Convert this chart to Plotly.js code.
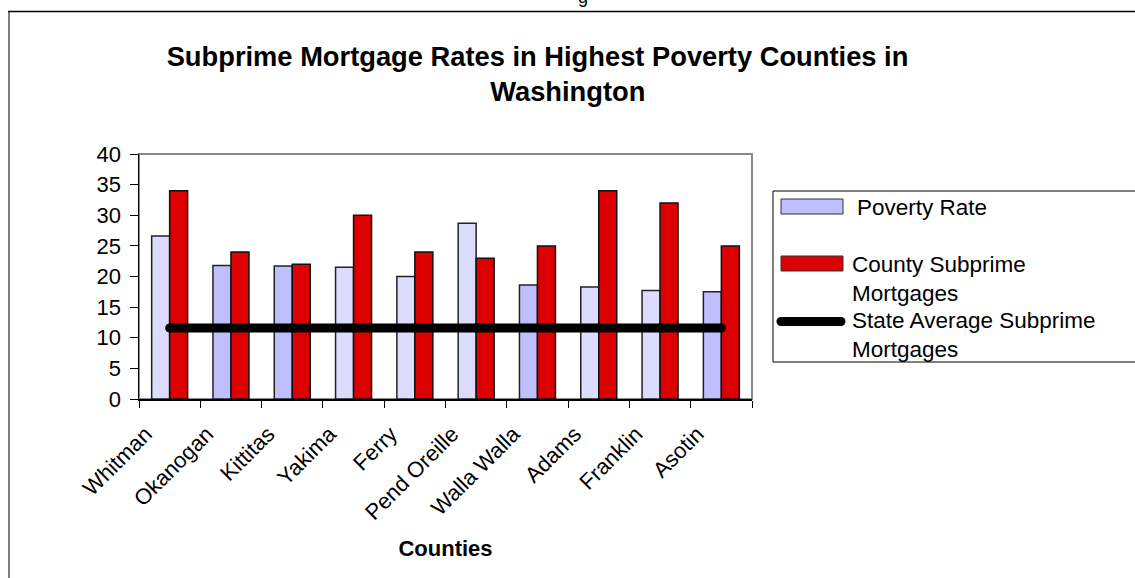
<!DOCTYPE html>
<html><head><meta charset="utf-8">
<script src="https://cdn.plot.ly/plotly-3.0.1.min.js"></script>
<style>html,body{margin:0;padding:0;background:#fff;overflow:hidden;} #chart{width:1135px;height:578px;}</style>
</head><body><div id="chart"></div>
<script>
// ---------------- DATA ----------------
const counties = ['Whitman','Okanogan','Kittitas','Yakima','Ferry','Pend Oreille','Walla Walla','Adams','Franklin','Asotin'];
const povertyRate = [26.6, 21.8, 21.7, 21.5, 20.0, 28.7, 18.6, 18.3, 17.7, 17.5];
const countySubprime = [34, 24, 22, 30, 24, 23, 25, 34, 32, 25];
const stateAverageSubprime = [11.6, 11.6, 11.6, 11.6, 11.6, 11.6, 11.6, 11.6, 11.6, 11.6];
const yTickValues = [0, 5, 10, 15, 20, 25, 30, 35, 40];
const seriesNames = ['Poverty Rate', 'County Subprime<br>Mortgages', 'State Average Subprime<br>Mortgages'];
const chartTitle = 'Subprime Mortgage Rates in Highest Poverty Counties in';
const chartTitle2 = 'Washington';
const xTitle = 'Counties';

// ---------------- STYLE ----------------
const W = 1135, H = 578;
const M = {l: 139, r: 383, t: 154, b: 179};
const PW = W - M.l - M.r, PH = H - M.t - M.b;
const px2x = p => (p - M.l) / PW;
const px2y = p => (H - M.b - p) / PH;
const FONT = 'Liberation Sans, Arial, Helvetica, sans-serif';
const povLight = '#DCDCFF', povDark = '#BFBFFF';
const povertyShade = [povLight, povDark, povDark, povLight, povLight, povLight, povDark, povLight, povLight, povDark];
const RED = '#DD0000';
const NB = '\u00A0';

const traces = [
  {type: 'bar', name: seriesNames[0], x: counties, y: povertyRate,
   marker: {color: povertyShade, line: {color: '#222', width: 1.5}}, hoverinfo: 'x+y'},
  {type: 'bar', name: seriesNames[1], x: counties, y: countySubprime,
   marker: {color: RED, line: {color: '#111', width: 1.5}}, hoverinfo: 'x+y'},
  {type: 'scatter', mode: 'lines+markers', name: seriesNames[2], x: counties, y: stateAverageSubprime,
   line: {color: '#000', width: 9}, marker: {color: '#000', size: 9}, cliponaxis: false}
];

const shapes = [
  // plot area frame (gray)
  {type: 'rect', xref: 'paper', yref: 'paper', x0: 0, x1: 1, y0: 0, y1: 1, line: {color: '#8a8a8a', width: 2}, layer: 'below'},
  // outer chart frame
  {type: 'line', xref: 'paper', yref: 'paper', x0: px2x(9), x1: px2x(9), y0: px2y(11.5), y1: px2y(640), line: {color: '#808080', width: 2}},
  {type: 'line', xref: 'paper', yref: 'paper', x0: px2x(8), x1: px2x(1150), y0: px2y(11.5), y1: px2y(11.5), line: {color: '#000', width: 1.5}},
  // legend box
  {type: 'rect', xref: 'paper', yref: 'paper', x0: px2x(773), x1: px2x(1150), y0: px2y(362), y1: px2y(191), line: {color: '#000', width: 1}, fillcolor: '#fff'},
  // legend swatches
  {type: 'rect', xref: 'paper', yref: 'paper', x0: px2x(781), x1: px2x(843), y0: px2y(214), y1: px2y(199), line: {color: '#333', width: 1}, fillcolor: povDark},
  {type: 'rect', xref: 'paper', yref: 'paper', x0: px2x(781), x1: px2x(843), y0: px2y(271), y1: px2y(256), line: {color: '#333', width: 1}, fillcolor: RED},
  {type: 'line', xref: 'paper', yref: 'paper', x0: px2x(781), x1: px2x(841), y0: px2y(321.5), y1: px2y(321.5), line: {color: '#000', width: 9}},
  {type: 'circle', xref: 'paper', yref: 'paper', x0: px2x(776.5), x1: px2x(785.5), y0: px2y(326), y1: px2y(317), line: {width: 0}, fillcolor: '#000'},
  {type: 'circle', xref: 'paper', yref: 'paper', x0: px2x(836.5), x1: px2x(845.5), y0: px2y(326), y1: px2y(317), line: {width: 0}, fillcolor: '#000'}
];

const legFont = {family: FONT, size: 22.5, color: '#000'};
const annotations = [
  {xref: 'paper', yref: 'paper', x: px2x(855), y: px2y(207), xanchor: 'left', yanchor: 'middle', text: seriesNames[0], showarrow: false, font: legFont, align: 'left'},
  {xref: 'paper', yref: 'paper', x: px2x(850), y: px2y(250), xanchor: 'left', yanchor: 'top', text: seriesNames[1], showarrow: false, font: legFont, align: 'left'},
  {xref: 'paper', yref: 'paper', x: px2x(850), y: px2y(306), xanchor: 'left', yanchor: 'top', text: seriesNames[2], showarrow: false, font: legFont, align: 'left'},
  // clipped fragment of page text above the chart
  {xref: 'paper', yref: 'paper', x: px2x(583), y: px2y(-3), xanchor: 'center', yanchor: 'middle', text: 'g', showarrow: false, font: {family: FONT, size: 18, color: '#000'}}
];

const layout = {
  width: W, height: H,
  margin: {l: M.l, r: M.r, t: M.t, b: M.b, pad: 0},
  paper_bgcolor: '#fff', plot_bgcolor: '#fff',
  showlegend: false,
  barmode: 'group', bargap: 0.413, bargroupgap: 0,
  font: {family: FONT, color: '#000'},
  title: {
    text: chartTitle + '<br>' + NB.repeat(8) + chartTitle2,
    font: {family: FONT, size: 27.3, color: '#000', weight: 'bold'},
    x: 537.5 / W, xref: 'container', xanchor: 'center',
    y: 1 - 66 / H, yref: 'container', yanchor: 'middle'
  },
  xaxis: {
    type: 'category', range: [-0.5, counties.length - 0.5],
    tickson: 'boundaries', ticks: 'outside', ticklen: 7, tickwidth: 1, tickcolor: '#000',
    showline: true, linecolor: '#000', linewidth: 1.5, showgrid: false, zeroline: false,
    tickangle: -45, tickfont: {family: FONT, size: 22, color: '#000'},
    ticklabelshift: -24, ticklabelstandoff: 12,
    title: {text: xTitle, font: {family: FONT, size: 22, color: '#000', weight: 'bold'}, standoff: 17},
    automargin: false, fixedrange: true
  },
  yaxis: {
    range: [0, 40], tickvals: yTickValues, ticktext: yTickValues.map(String),
    ticks: 'outside', ticklen: 8, tickwidth: 1, tickcolor: '#000',
    showline: true, linecolor: '#000', linewidth: 1.5, showgrid: false, zeroline: false,
    tickfont: {family: FONT, size: 22, color: '#000'}, ticklabelstandoff: 4,
    automargin: false, fixedrange: true
  },
  shapes: shapes,
  annotations: annotations
};

Plotly.newPlot('chart', traces, layout, {displayModeBar: false, staticPlot: true});
</script>
</body></html>
